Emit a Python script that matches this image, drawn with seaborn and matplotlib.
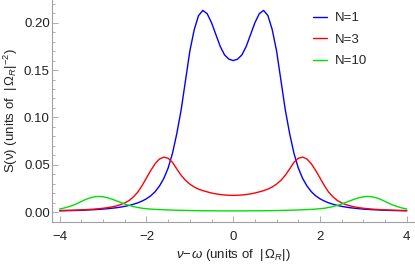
import numpy as np
import pandas as pd
import matplotlib
matplotlib.use("Agg")
import matplotlib.pyplot as plt
from matplotlib.ticker import MultipleLocator
import seaborn as sns

# detuning grid (units of |Omega_R|)
detuning = [round(-4.0 + 0.1 * i, 1) for i in range(81)]

# spectra, N=1 / N=3 / N=10
s_n1 = [0.0013, 0.0014, 0.0015, 0.0016, 0.0017, 0.0019, 0.0021, 0.0023, 0.0025, 0.0028,
        0.0031, 0.0035, 0.0040, 0.0045, 0.0052, 0.0060, 0.0070, 0.0082, 0.0097, 0.0116,
        0.0140, 0.0172, 0.0215, 0.0275, 0.0355, 0.0465, 0.0620, 0.0830, 0.1080, 0.1390,
        0.1700, 0.1925, 0.2075, 0.2130, 0.2095, 0.2000, 0.1875, 0.1750, 0.1660, 0.1615,
        0.1600,
        0.1615, 0.1660, 0.1750, 0.1875, 0.2000, 0.2095, 0.2130, 0.2075, 0.1925, 0.1700,
        0.1390, 0.1080, 0.0830, 0.0620, 0.0465, 0.0355, 0.0275, 0.0215, 0.0172, 0.0140,
        0.0116, 0.0097, 0.0082, 0.0070, 0.0060, 0.0052, 0.0045, 0.0040, 0.0035, 0.0031,
        0.0028, 0.0025, 0.0023, 0.0021, 0.0019, 0.0017, 0.0016, 0.0015, 0.0014, 0.0013]

s_n3 = [0.0016, 0.0017, 0.0018, 0.0019, 0.0021, 0.0023, 0.0025, 0.0028, 0.0031, 0.0035,
        0.0040, 0.0046, 0.0054, 0.0064, 0.0078, 0.0096, 0.0122, 0.0160, 0.0210, 0.0280,
        0.0360, 0.0440, 0.0510, 0.0560, 0.0580, 0.0568, 0.0525, 0.0455, 0.0388, 0.0335,
        0.0295, 0.0265, 0.0242, 0.0226, 0.0213, 0.0201, 0.0192, 0.0185, 0.0180, 0.0177,
        0.0176,
        0.0177, 0.0180, 0.0185, 0.0192, 0.0201, 0.0213, 0.0226, 0.0242, 0.0265, 0.0295,
        0.0335, 0.0388, 0.0455, 0.0525, 0.0568, 0.0580, 0.0560, 0.0510, 0.0440, 0.0360,
        0.0280, 0.0210, 0.0160, 0.0122, 0.0096, 0.0078, 0.0064, 0.0054, 0.0046, 0.0040,
        0.0035, 0.0031, 0.0028, 0.0025, 0.0023, 0.0021, 0.0019, 0.0018, 0.0017, 0.0016]

s_n10 = [0.0032, 0.0042, 0.0055, 0.0071, 0.0090, 0.0112, 0.0133, 0.0150, 0.0161, 0.0165,
         0.0161, 0.0151, 0.0137, 0.0120, 0.0102, 0.0085, 0.0070, 0.0058, 0.0048, 0.0040,
         0.0035, 0.0031, 0.0028, 0.0026, 0.0024, 0.0022, 0.0020, 0.0019, 0.0018, 0.0017,
         0.0016, 0.0015, 0.0014, 0.0014, 0.0013, 0.0013, 0.0013, 0.0012, 0.0012, 0.0012,
         0.0012,
         0.0012, 0.0012, 0.0012, 0.0013, 0.0013, 0.0013, 0.0014, 0.0014, 0.0015, 0.0016,
         0.0017, 0.0018, 0.0019, 0.0020, 0.0022, 0.0024, 0.0026, 0.0028, 0.0031, 0.0035,
         0.0040, 0.0048, 0.0058, 0.0070, 0.0085, 0.0102, 0.0120, 0.0137, 0.0151, 0.0161,
         0.0165, 0.0161, 0.0150, 0.0133, 0.0112, 0.0090, 0.0071, 0.0055, 0.0042, 0.0032]

labels = ["N=1", "N=3", "N=10"]
colors = ["#0000ff", "#ff0000", "#00e000"]

df = pd.concat([
    pd.DataFrame({"x": detuning, "S": s, "N": lab})
    for s, lab in zip([s_n1, s_n3, s_n10], labels)
])

sns.set_style("white")
plt.rcParams["font.family"] = ["Liberation Sans", "DejaVu Sans"]
plt.rcParams["mathtext.fontset"] = "custom"
plt.rcParams["mathtext.rm"] = "Liberation Sans"
plt.rcParams["mathtext.it"] = "Liberation Sans:italic"

fs = 9.5
fig = plt.figure(figsize=(4.15, 2.65), dpi=100)
ax = fig.add_axes([0.125, 0.162, 0.875, 0.838])

sns.lineplot(data=df, x="x", y="S", hue="N", palette=colors, hue_order=labels,
             linewidth=1.0, ax=ax, sort=False)

ax.set_xlim(-4.18, 4.19)
ax.set_ylim(-0.0106, 0.224)
ax.xaxis.set_major_locator(MultipleLocator(2))
ax.xaxis.set_minor_locator(MultipleLocator(0.5))
ax.yaxis.set_major_locator(MultipleLocator(0.05))
ax.yaxis.set_minor_locator(MultipleLocator(0.01))
ax.yaxis.set_major_formatter(matplotlib.ticker.FormatStrFormatter("%.2f"))

for side in ["top", "right"]:
    ax.spines[side].set_visible(False)
for side in ["left", "bottom"]:
    ax.spines[side].set_color("#a0a0a0")
    ax.spines[side].set_linewidth(0.8)

ax.tick_params(which="both", direction="in", color="#a0a0a0", labelsize=fs,
               labelcolor="#222222", width=0.6, bottom=True, left=True)
ax.tick_params(which="major", length=4)
ax.tick_params(which="minor", length=2.2)
ax.tick_params(axis="x", which="major", pad=6.5)
ax.tick_params(axis="y", which="major", pad=1.5)

ax.set_xlabel(r"$\nu\!-\!\omega$ (units of  $|\,\Omega_R|$)", fontsize=fs, color="#222222", labelpad=2.5)
ax.set_ylabel(r"S(ν) (units of  $|\,\Omega_R|^{-2}$)", fontsize=fs, color="#222222", labelpad=3)

ax.legend(frameon=False, loc="upper left", bbox_to_anchor=(0.719, 0.945), fontsize=fs,
          borderpad=0, borderaxespad=0, handlelength=1.05, handletextpad=0.6,
          labelspacing=0.7)

fig.savefig("out.png", dpi=100)
